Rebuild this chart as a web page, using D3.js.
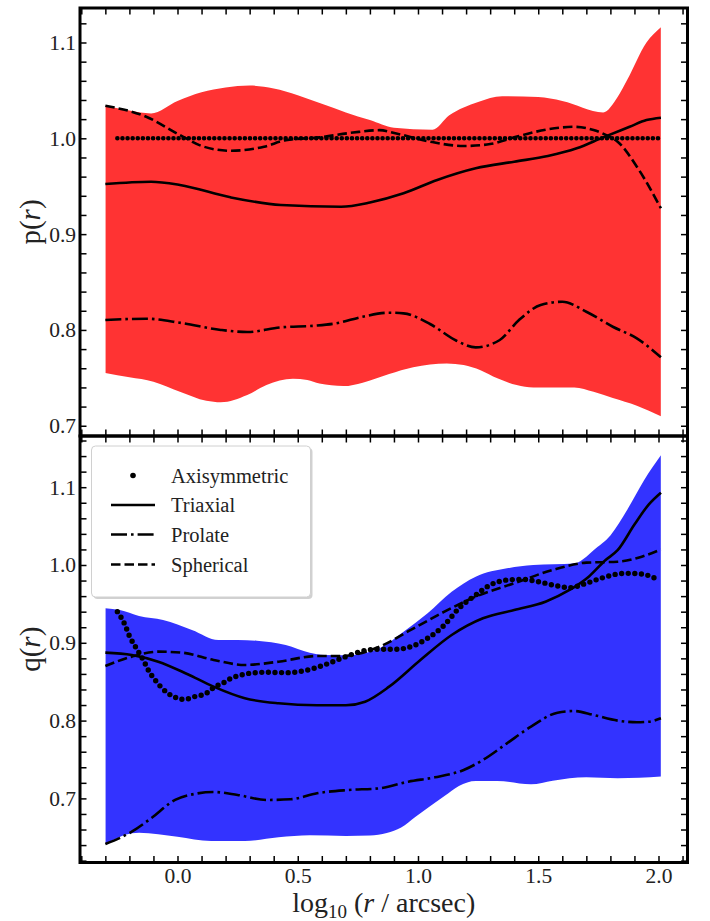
<!DOCTYPE html>
<html><head><meta charset="utf-8">
<script src="https://cdn.jsdelivr.net/npm/d3@7"></script>
<style>body{margin:0;background:#fff}svg{display:block}svg text{font-family:"Liberation Serif",serif}</style>
</head><body>
<svg id="c" width="710" height="921"></svg>
<script>
// ---------- data: top panel p(r) ----------
const pUpperX = [-0.30,-0.20,-0.11,0.00,0.10,0.20,0.30,0.40,0.50,0.60,0.70,0.80,0.90,1.06,1.13,1.25,1.35,1.50,1.60,1.77,1.83,1.87,1.95,2.01];
const pUpperY = [1.034,1.029,1.026,1.039,1.048,1.053,1.055,1.052,1.045,1.036,1.027,1.019,1.011,1.009,1.024,1.038,1.044,1.043,1.039,1.027,1.043,1.061,1.100,1.116];
const pLowerX = [-0.30,-0.20,-0.10,0.01,0.12,0.18,0.29,0.37,0.48,0.54,0.59,0.69,0.77,0.88,0.98,1.12,1.19,1.26,1.33,1.41,1.48,1.65,1.73,1.81,1.91,2.01];
const pLowerY = [0.755,0.7505,0.746,0.7355,0.726,0.7244,0.732,0.7425,0.749,0.7477,0.744,0.7414,0.745,0.754,0.761,0.765,0.7634,0.758,0.7495,0.7425,0.740,0.740,0.7355,0.729,0.721,0.710];
const pTriX = [-0.30,-0.11,0.01,0.22,0.43,0.68,0.80,0.94,1.08,1.24,1.40,1.54,1.66,1.77,1.88,1.95,2.01];
const pTriY = [0.9523,0.9547,0.9513,0.9384,0.9304,0.9286,0.933,0.9426,0.9565,0.9687,0.9756,0.9815,0.9896,1.001,1.012,1.019,1.0215];
const pSphX = [-0.30,-0.13,0.01,0.11,0.22,0.36,0.45,0.59,0.73,0.84,0.91,1.05,1.19,1.30,1.42,1.54,1.65,1.73,1.79,1.83,1.91,2.01];
const pSphY = [1.034,1.0225,1.0034,0.9912,0.987,0.9912,0.998,1.001,1.006,1.0085,1.005,0.9965,0.992,0.994,1.0024,1.0094,1.012,1.0087,1.0024,0.9965,0.9704,0.927];
const pProX = [-0.30,-0.13,0.01,0.18,0.29,0.43,0.57,0.66,0.77,0.88,0.94,1.05,1.16,1.24,1.34,1.42,1.51,1.60,1.70,1.81,1.91,2.01];
const pProY = [0.8103,0.8117,0.8075,0.800,0.7978,0.8027,0.8044,0.8069,0.8138,0.818,0.8173,0.8062,0.7887,0.7818,0.7895,0.8103,0.826,0.8294,0.819,0.8033,0.7912,0.7714];
const pAxiX = [-0.25,2.01];
const pAxiY = [1.0,1.0];

// ---------- data: bottom panel q(r) ----------
const qUpperX = [-0.30,-0.24,-0.16,-0.06,0.06,0.17,0.25,0.33,0.45,0.55,0.61,0.71,0.84,0.94,1.04,1.14,1.24,1.37,1.48,1.65,1.70,1.73,1.80,1.87,1.94,2.01];
const qUpperY = [0.9443,0.942,0.9344,0.9293,0.9165,0.9036,0.9036,0.9027,0.8972,0.8873,0.8843,0.884,0.893,0.9143,0.938,0.9657,0.985,0.9957,1.000,1.002,1.0107,1.019,1.038,1.071,1.109,1.141];
const qLowerX = [-0.30,-0.19,-0.16,0.00,0.14,0.28,0.42,0.55,0.70,0.80,0.87,0.93,0.99,1.11,1.17,1.24,1.33,1.47,1.56,1.70,1.83,2.01];
const qLowerY = [0.6414,0.6551,0.656,0.6508,0.6452,0.6452,0.650,0.6526,0.6517,0.6522,0.6555,0.6625,0.6765,0.7031,0.716,0.7224,0.7224,0.7181,0.7228,0.7271,0.7258,0.728];
const qTriX = [-0.30,-0.19,-0.08,0.04,0.15,0.28,0.42,0.58,0.70,0.78,0.88,1.01,1.14,1.27,1.40,1.53,1.63,1.71,1.78,1.83,1.90,1.96,2.01];
const qTriY = [0.8873,0.8843,0.8757,0.8599,0.8436,0.8287,0.8222,0.8197,0.8197,0.8243,0.8436,0.8779,0.91,0.9315,0.9422,0.9528,0.9679,0.985,1.0064,1.019,1.052,1.078,1.093];
const qSphX = [-0.30,-0.19,-0.08,0.02,0.15,0.28,0.42,0.58,0.68,0.84,0.97,1.11,1.24,1.40,1.56,1.70,1.83,1.93,2.01];
const qSphY = [0.8702,0.8822,0.8886,0.8873,0.8779,0.8715,0.8757,0.883,0.883,0.895,0.9165,0.94,0.9593,0.9765,0.9936,1.003,1.0042,1.0107,1.020];
const qProX = [-0.30,-0.19,-0.11,-0.01,0.07,0.15,0.25,0.37,0.47,0.58,0.71,0.84,0.96,1.07,1.19,1.27,1.37,1.47,1.58,1.65,1.73,1.83,1.91,1.96,2.01];
const qProY = [0.6414,0.6572,0.6744,0.698,0.7057,0.7082,0.7044,0.698,0.6988,0.7066,0.7108,0.713,0.7215,0.7271,0.7365,0.7494,0.7708,0.7922,0.8102,0.8123,0.8072,0.800,0.7978,0.7986,0.803];
const qAxiX = [-0.25,-0.22,-0.20,-0.17,-0.14,-0.12,-0.09,-0.07,-0.04,-0.01,0.01,0.04,0.06,0.09,0.12,0.14,0.17,0.20,0.22,0.25,0.30,0.37,0.45,0.53,0.61,0.70,0.76,0.83,0.91,0.97,1.04,1.11,1.17,1.24,1.30,1.37,1.43,1.50,1.56,1.63,1.70,1.76,1.86,1.93,2.00];
const qAxiY = [0.94,0.9242,0.9087,0.8924,0.8766,0.8642,0.851,0.8436,0.8351,0.83,0.8274,0.8278,0.83,0.832,0.8351,0.8402,0.8458,0.85,0.8539,0.8573,0.8608,0.8621,0.8616,0.8642,0.8715,0.8822,0.8886,0.8917,0.8917,0.895,0.9058,0.9229,0.9443,0.9614,0.9743,0.9807,0.9816,0.9786,0.9743,0.9709,0.9765,0.9829,0.9893,0.9884,0.9807];

// ---------- ticks & labels ----------
const xTickLabels = [0.0, 0.5, 1.0, 1.5, 2.0];
const pTickLabels = [0.7, 0.8, 0.9, 1.0, 1.1];
const qTickLabels = [0.7, 0.8, 0.9, 1.0, 1.1];
const legendLabels = ["Axisymmetric", "Triaxial", "Prolate", "Spherical"];

// ---------- layout ----------
const svg = d3.select("#c");
const L = 80, R = 687.5;
const FONT = '"Liberation Serif", serif';
const x = d3.scaleLinear().domain([-0.4054, 2.1206]).range([L, R]);
const panels = [
  {top: 8, bot: 436, dom: [0.6893, 1.136], fill: "#ff3333", lab: "p",
   up: [pUpperX, pUpperY], lo: [pLowerX, pLowerY], tri: [pTriX, pTriY], sph: [pSphX, pSphY], pro: [pProX, pProY], axi: [pAxiX, pAxiY],
   ticks: pTickLabels, minor: d3.range(35, 57).map(i => i * 0.02), dot: [4.6, 5.1]},
  {top: 436, bot: 862.5, dom: [0.6176, 1.1658], fill: "#3333ff", lab: "q",
   up: [qUpperX, qUpperY], lo: [qLowerX, qLowerY], tri: [qTriX, qTriY], sph: [qSphX, qSphY], pro: [qProX, qProY], axi: [qAxiX, qAxiY],
   ticks: qTickLabels, minor: d3.range(31, 59).map(i => i * 0.02), dot: [5.4, 6.6]}
];
const xMinor = d3.range(-4, 22).map(i => i * 0.1);
const zip = (X, Y) => X.map((v, i) => [v, Y[i]]);
const LW = 2.6;

panels.forEach((P, k) => {
  const y = d3.scaleLinear().domain(P.dom).range([P.bot, P.top]);
  const g = svg.append("g");
  const cid = "clip" + k;
  g.append("clipPath").attr("id", cid).append("path")
    .attr("d", d3.area().x(d => x(d[0])).y0(P.top).y1(d => y(d[1])).curve(d3.curveMonotoneX)(zip(P.lo[0], P.lo[1])));
  g.append("path")
    .attr("d", d3.area().x(d => x(d[0])).y0(P.bot).y1(d => y(d[1])).curve(d3.curveMonotoneX)(zip(P.up[0], P.up[1])))
    .attr("fill", P.fill).attr("clip-path", `url(#${cid})`);
  const line = d3.line().x(d => x(d[0])).y(d => y(d[1])).curve(d3.curveMonotoneX);
  const draw = (s, dash) => g.append("path").attr("d", line(zip(s[0], s[1])))
    .attr("fill", "none").attr("stroke", "#000").attr("stroke-width", LW)
    .attr("stroke-dasharray", dash);
  draw(P.sph, "9.5 4");
  draw(P.pro, "16 4 2.6 4");
  draw(P.tri, null);
  g.append("path").attr("d", line(zip(P.axi[0], P.axi[1])))
    .attr("fill", "none").attr("stroke", "#000").attr("stroke-width", P.dot[0])
    .attr("stroke-linecap", "round").attr("stroke-dasharray", `0 ${P.dot[1]}`);

  const isMajorY = d => P.ticks.some(m => Math.abs(m - d) < 1e-6);
  const isMajorX = d => xTickLabels.some(m => Math.abs(m - d) < 1e-6);
  const fmt = d3.format(".1f");
  const styleAxis = a => {
    a.attr("font-family", null).attr("font-size", null);
    a.select(".domain").remove();
    a.selectAll(".tick line").attr("stroke", "#000").attr("stroke-width", 1.5);
    a.selectAll(".tick text").style("font-family", FONT).style("font-size", "21.5px").attr("fill", "#222");
  };
  svg.append("g").attr("transform", `translate(${L},0)`)
    .call(d3.axisLeft(y).tickValues(P.minor).tickSize(-6.5).tickPadding(4).tickFormat(d => isMajorY(d) ? fmt(d) : ""))
    .call(styleAxis);
  svg.append("g").attr("transform", `translate(${R},0)`)
    .call(d3.axisRight(y).tickValues(P.minor).tickSize(-6.5).tickFormat(""))
    .call(styleAxis);
  svg.append("g").attr("transform", `translate(0,${P.top})`)
    .call(d3.axisTop(x).tickValues(xMinor).tickSize(-6.5).tickFormat(""))
    .call(styleAxis);
  svg.append("g").attr("transform", `translate(0,${P.bot})`)
    .call(d3.axisBottom(x).tickValues(xMinor).tickSize(-6.5).tickPadding(5)
      .tickFormat(d => (k === 1 && isMajorX(d)) ? fmt(Math.abs(d) < 1e-9 ? 0 : d) : ""))
    .call(styleAxis);
  svg.append("rect").attr("x", L).attr("y", P.top).attr("width", R - L).attr("height", P.bot - P.top)
    .attr("fill", "none").attr("stroke", "#000").attr("stroke-width", 3);
  const t = svg.append("text").attr("transform", `translate(40,${(P.top + P.bot) / 2}) rotate(-90)`)
    .attr("text-anchor", "middle").style("font-family", FONT).style("font-size", "29px").attr("fill", "#222");
  t.append("tspan").text(P.lab + "(");
  t.append("tspan").attr("font-style", "italic").text("r");
  t.append("tspan").text(")");
});

// x label
const xl = svg.append("text").attr("x", (L + R) / 2).attr("y", 912).attr("text-anchor", "middle")
  .style("font-family", FONT).style("font-size", "28px").attr("fill", "#222");
xl.append("tspan").text("log");
xl.append("tspan").style("font-size", "19px").attr("dy", 6).text("10");
xl.append("tspan").attr("dy", -6).text(" (");
xl.append("tspan").attr("font-style", "italic").text("r");
xl.append("tspan").text(" / arcsec)");

// legend
const lg = svg.append("g");
lg.append("rect").attr("x", 93.5).attr("y", 448).attr("width", 219).attr("height", 151).attr("rx", 4)
  .attr("fill", "#000").attr("opacity", 0.18);
lg.append("rect").attr("x", 91.5).attr("y", 446).attr("width", 219).attr("height", 151).attr("rx", 4)
  .attr("fill", "#fff").attr("stroke", "#d0d0d0").attr("stroke-width", 1);
const rowY = [475.5, 505, 534.5, 564.5];
const dashes = [null, null, "16 4 2.6 4", "9.5 4"];
legendLabels.forEach((lab, i) => {
  if (i === 0) {
    lg.append("circle").attr("cx", 133).attr("cy", rowY[i]).attr("r", 2.8).attr("fill", "#000");
  } else {
    lg.append("line").attr("x1", 111).attr("x2", 155).attr("y1", rowY[i]).attr("y2", rowY[i])
      .attr("stroke", "#000").attr("stroke-width", LW).attr("stroke-dasharray", dashes[i]);
  }
  lg.append("text").attr("x", 171).attr("y", rowY[i] + 7).style("font-family", FONT)
    .style("font-size", "20.5px").attr("fill", "#222").text(lab);
});
</script>
</body></html>
